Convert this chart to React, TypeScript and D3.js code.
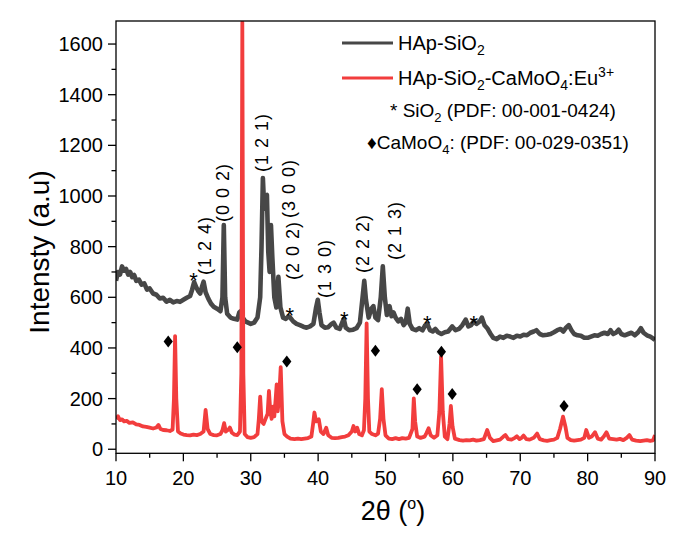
import React from 'react';
import * as d3 from 'd3';

// HAp-SiO2 (2θ, intensity)
const hapSio2: [number, number][] = [
  [10.0, 665], [10.3, 700], [10.6, 690], [10.9, 722], [11.2, 705], [11.5, 712], [11.8, 690], [12.1, 700],
  [12.4, 680], [12.7, 688], [13.0, 665], [13.4, 670], [13.8, 650], [14.2, 655], [14.6, 630], [15.0, 635],
  [15.5, 615], [16.0, 610], [16.5, 595], [17.0, 598], [17.5, 583], [18.0, 590], [18.5, 580], [19.0, 585],
  [19.5, 582], [20.0, 590], [20.5, 598], [21.0, 605], [21.3, 630], [21.6, 660], [21.9, 640], [22.2, 625],
  [22.5, 615], [22.8, 645], [23.0, 662], [23.3, 620], [23.7, 595], [24.1, 575], [24.5, 563], [25.0, 555],
  [25.5, 545], [25.8, 600], [26.0, 885], [26.2, 600], [26.5, 535], [27.0, 520], [27.5, 515], [28.0, 512],
  [28.3, 540], [28.5, 545], [28.8, 520], [29.2, 505], [29.6, 500], [30.0, 495], [30.5, 500], [31.0, 520],
  [31.4, 600], [31.6, 800], [31.8, 1071], [32.0, 950], [32.2, 1000], [32.4, 1004], [32.6, 780], [32.8, 700],
  [33.0, 885], [33.2, 760], [33.5, 600], [33.8, 560], [34.1, 681], [34.4, 560], [34.8, 520], [35.2, 515],
  [35.6, 525], [35.9, 518], [36.3, 505], [36.8, 495], [37.3, 490], [37.8, 484], [38.3, 480], [38.8, 485],
  [39.3, 495], [39.7, 560], [39.95, 590], [40.2, 540], [40.5, 490], [41.0, 480], [41.5, 482], [42.0, 495],
  [42.3, 500], [42.7, 480], [43.2, 475], [43.8, 515], [44.1, 480], [44.6, 470], [45.2, 472], [45.7, 478],
  [46.2, 500], [46.6, 600], [46.85, 665], [47.1, 590], [47.5, 520], [47.9, 555], [48.2, 565], [48.5, 520],
  [48.9, 510], [49.3, 600], [49.6, 722], [49.9, 600], [50.2, 530], [50.6, 565], [50.9, 525], [51.2, 540],
  [51.5, 520], [51.9, 505], [52.3, 515], [52.7, 490], [53.0, 500], [53.3, 555], [53.6, 495], [54.0, 475],
  [54.5, 470], [55.0, 478], [55.5, 470], [55.9, 490], [56.2, 495], [56.6, 470], [57.0, 465], [57.4, 475],
  [57.8, 462], [58.3, 455], [58.8, 462], [59.3, 465], [59.9, 485], [60.4, 470], [60.9, 475], [61.4, 490],
  [61.9, 512], [62.3, 485], [62.7, 490], [63.1, 505], [63.5, 495], [64.0, 505], [64.3, 520], [64.7, 490],
  [65.1, 478], [65.6, 455], [66.0, 440], [66.5, 435], [67.0, 445], [67.5, 440], [68.0, 448], [68.5, 445],
  [69.0, 440], [69.5, 448], [70.0, 445], [70.5, 452], [71.0, 450], [71.5, 460], [72.0, 465], [72.4, 470],
  [72.9, 455], [73.4, 450], [74.0, 452], [74.5, 455], [75.0, 462], [75.5, 470], [76.0, 475], [76.4, 465],
  [76.8, 480], [77.2, 490], [77.6, 470], [78.0, 455], [78.5, 450], [79.0, 448], [79.5, 440], [80.0, 440],
  [80.5, 445], [81.0, 450], [81.5, 448], [82.0, 455], [82.5, 460], [83.0, 455], [83.4, 470], [83.8, 455],
  [84.2, 460], [84.6, 472], [85.0, 455], [85.5, 450], [86.0, 455], [86.5, 460], [87.0, 450], [87.5, 462],
  [87.9, 478], [88.3, 460], [88.8, 450], [89.3, 445], [89.7, 438], [90.0, 432],
];

// HAp-SiO2-CaMoO4:Eu3+ (2θ, intensity)
const hapCamoo4: [number, number][] = [
  [10.0, 120], [10.3, 130], [10.6, 115], [10.9, 118], [11.2, 110], [11.6, 112], [12.0, 104], [12.5, 106],
  [13.0, 98], [13.5, 96], [14.0, 90], [14.5, 88], [15.0, 85], [15.5, 82], [16.0, 86], [16.3, 96],
  [16.6, 80], [17.0, 76], [17.5, 75], [18.0, 72], [18.4, 78], [18.6, 200], [18.77, 447], [18.95, 200],
  [19.2, 70], [19.6, 62], [20.0, 58], [20.5, 56], [21.0, 55], [21.5, 58], [22.0, 56], [22.5, 60],
  [23.0, 70], [23.3, 155], [23.6, 80], [24.0, 60], [24.5, 56], [25.0, 55], [25.5, 60], [25.8, 75],
  [26.05, 103], [26.3, 70], [26.7, 78], [26.9, 86], [27.2, 65], [27.6, 58], [28.0, 56], [28.4, 70],
  [28.6, 300], [28.75, 1685], [28.9, 300], [29.1, 60], [29.5, 48], [30.0, 45], [30.5, 48], [31.0, 60],
  [31.2, 120], [31.4, 208], [31.6, 110], [31.9, 100], [32.2, 120], [32.5, 140], [32.7, 230], [32.9, 150],
  [33.1, 120], [33.3, 168], [33.5, 130], [33.7, 200], [33.85, 256], [34.0, 150], [34.2, 200], [34.45, 324],
  [34.7, 110], [35.0, 60], [35.4, 50], [35.9, 42], [36.5, 40], [37.0, 42], [37.5, 40], [38.0, 42],
  [38.5, 44], [39.0, 50], [39.25, 100], [39.45, 145], [39.7, 110], [40.1, 118], [40.4, 70], [40.8, 60],
  [41.2, 85], [41.5, 55], [42.0, 45], [42.5, 44], [43.0, 45], [43.5, 48], [44.0, 50], [44.5, 55],
  [45.0, 70], [45.25, 92], [45.5, 70], [45.8, 85], [46.1, 60], [46.5, 55], [46.8, 75], [47.0, 200],
  [47.2, 497], [47.4, 200], [47.6, 70], [48.0, 60], [48.5, 55], [48.9, 62], [49.2, 120], [49.45, 237],
  [49.7, 120], [50.0, 55], [50.5, 42], [51.0, 40], [51.5, 44], [52.0, 40], [52.5, 44], [53.0, 42],
  [53.5, 45], [54.0, 80], [54.2, 201], [54.4, 110], [54.7, 50], [55.2, 45], [55.8, 50], [56.1, 65],
  [56.4, 83], [56.7, 55], [57.2, 45], [57.7, 55], [58.0, 150], [58.25, 366], [58.5, 150], [58.8, 50],
  [59.2, 40], [59.5, 100], [59.7, 171], [59.95, 90], [60.3, 42], [61.0, 36], [61.5, 34], [62.0, 36],
  [62.5, 35], [63.0, 38], [63.5, 34], [64.0, 36], [64.6, 40], [65.1, 76], [65.5, 45], [66.0, 32],
  [66.5, 35], [67.0, 38], [67.5, 50], [67.8, 56], [68.2, 40], [68.7, 38], [69.2, 45], [69.5, 51],
  [69.9, 40], [70.2, 45], [70.5, 54], [70.9, 40], [71.4, 38], [72.0, 45], [72.5, 62], [72.9, 40],
  [73.5, 35], [74.0, 33], [74.5, 36], [75.0, 38], [75.5, 45], [75.9, 80], [76.35, 129], [76.7, 90],
  [77.0, 45], [77.5, 36], [78.0, 34], [78.5, 36], [79.0, 38], [79.5, 45], [79.8, 76], [80.2, 45],
  [80.6, 50], [81.1, 67], [81.5, 42], [82.0, 38], [82.4, 50], [82.8, 67], [83.2, 42], [83.8, 40],
  [84.3, 38], [84.8, 41], [85.3, 36], [85.8, 45], [86.2, 56], [86.6, 38], [87.2, 34], [87.8, 32],
  [88.3, 34], [88.8, 36], [89.3, 33], [89.7, 35], [90.0, 56],
];

// SiO2 reflections (*) and CaMoO4 reflections (♦), placed in data coordinates
const sio2Marks: [number, number][] = [[21.5, 688], [35.8, 548], [43.9, 534], [56.2, 517], [63.1, 517]];
const camoo4Marks: [number, number][] = [
  [17.75, 425], [28.0, 403], [35.35, 346], [48.5, 389], [54.7, 237], [58.3, 385], [59.9, 218], [76.5, 171],
];

// Miller indices: label, 2θ, intensity at label foot
const millerLabels: [string, number, number][] = [
  ['(1 2 4)', 23.2, 688], ['(0 0 2)', 25.84, 897], ['(1 2 1)', 31.67, 1095], ['(3 0 0)', 35.7, 913],
  ['(2 0 2)', 36.3, 668], ['(1 3 0)', 41.0, 597], ['(2 2 2)', 46.7, 696], ['(2 1 3)', 51.4, 747],
];

const xTicks = [10, 20, 30, 40, 50, 60, 70, 80, 90];
const xMinor = [15, 25, 35, 45, 55, 65, 75, 85];
const yTicks = [0, 200, 400, 600, 800, 1000, 1200, 1400, 1600];
const yMinor = [100, 300, 500, 700, 900, 1100, 1300, 1500];

const FONT = 'Arial, "Liberation Sans", Helvetica, sans-serif';
const GREY = '#474747';
const RED = '#f23d3d';

export default function App() {
  const left = 116, right = 655, top = 21, bottom = 453.3;
  const x = d3.scaleLinear().domain([10, 90]).range([left, right]);
  const y = d3.scaleLinear().domain([-16, 1691]).range([bottom, top]);
  const line = d3.line<[number, number]>().x(d => x(d[0])).y(d => y(d[1]));

  const diamond = (cx: number, cy: number) =>
    `M${cx},${cy - 6}L${cx + 4.6},${cy}L${cx},${cy + 6}L${cx - 4.6},${cy}Z`;

  return (
    <svg width={689} height={535} style={{ position: 'absolute', left: 0, top: 0, background: '#fff' }}
      fontFamily={FONT}>
      <rect x={0} y={0} width={689} height={535} fill="#fff" />
      <defs>
        <clipPath id="plot">
          <rect x={left} y={top} width={right - left} height={bottom - top} />
        </clipPath>
      </defs>

      <g clipPath="url(#plot)" fill="none" strokeLinejoin="round">
        <path d={line(hapSio2) || ''} stroke={GREY} strokeWidth={4.6} />
        <path d={line(hapCamoo4) || ''} stroke={RED} strokeWidth={3.8} />
      </g>

      {sio2Marks.map((d, i) => (
        <text key={'s' + i} x={x(d[0])} y={y(d[1]) + 13} textAnchor="middle" fontSize={22}>*</text>
      ))}
      {camoo4Marks.map((d, i) => (
        <path key={'c' + i} d={diamond(x(d[0]), y(d[1]))} fill="#000" />
      ))}
      {millerLabels.map(([t, a, b], i) => (
        <text key={'m' + i} transform={`translate(${x(a)},${y(b)}) rotate(-90)`} dominantBaseline="central"
          fontSize={18} letterSpacing={1}>{t}</text>
      ))}

      {/* frame */}
      <rect x={left} y={top} width={right - left} height={bottom - top} fill="none" stroke="#000" strokeWidth={1.3} />

      {/* x axis */}
      {xTicks.map(t => (
        <g key={'xt' + t}>
          <line x1={x(t)} x2={x(t)} y1={bottom} y2={bottom + 8} stroke="#000" strokeWidth={1.3} />
          <text x={x(t)} y={485} textAnchor="middle" fontSize={20}>{t}</text>
        </g>
      ))}
      {xMinor.map(t => (
        <line key={'xm' + t} x1={x(t)} x2={x(t)} y1={bottom} y2={bottom + 4.5} stroke="#000" strokeWidth={1.3} />
      ))}

      {/* y axis */}
      {yTicks.map(t => (
        <g key={'yt' + t}>
          <line x1={left - 8} x2={left} y1={y(t)} y2={y(t)} stroke="#000" strokeWidth={1.3} />
          <text x={103} y={y(t)} textAnchor="end" dominantBaseline="central" fontSize={20}>{t}</text>
        </g>
      ))}
      {yMinor.map(t => (
        <line key={'ym' + t} x1={left - 4.5} x2={left} y1={y(t)} y2={y(t)} stroke="#000" strokeWidth={1.3} />
      ))}

      {/* axis titles */}
      <text transform="translate(39,252) rotate(-90)" textAnchor="middle" dominantBaseline="central" fontSize={28}>
        Intensty (a.u)
      </text>
      <text x={393} y={520} textAnchor="middle" fontSize={27}>
        2θ (<tspan fontSize={16} dy={-11}>o</tspan><tspan dy={11}>)</tspan>
      </text>

      {/* legend */}
      <line x1={342} x2={393} y1={43} y2={43} stroke={GREY} strokeWidth={3} />
      <text x={398} y={49.5} fontSize={20}>
        HAp-SiO<tspan fontSize={14} dy={5}>2</tspan>
      </text>
      <line x1={342} x2={393} y1={78} y2={78} stroke={RED} strokeWidth={3} />
      <text x={398} y={84.5} fontSize={20}>
        HAp-SiO<tspan fontSize={14} dy={5}>2</tspan><tspan dy={-5}>-CaMoO</tspan>
        <tspan fontSize={14} dy={5}>4</tspan><tspan dy={-5}>:Eu</tspan>
        <tspan fontSize={14} dy={-8}>3+</tspan>
      </text>
      <text x={390} y={117} fontSize={19}>
        * SiO<tspan fontSize={13} dy={5}>2</tspan><tspan dy={-5}> (PDF: 00-001-0424)</tspan>
      </text>
      <text x={367} y={149} fontSize={19}>
        ♦CaMoO<tspan fontSize={13} dy={5}>4</tspan><tspan dy={-5}>: (PDF: 00-029-0351)</tspan>
      </text>
    </svg>
  );
}
